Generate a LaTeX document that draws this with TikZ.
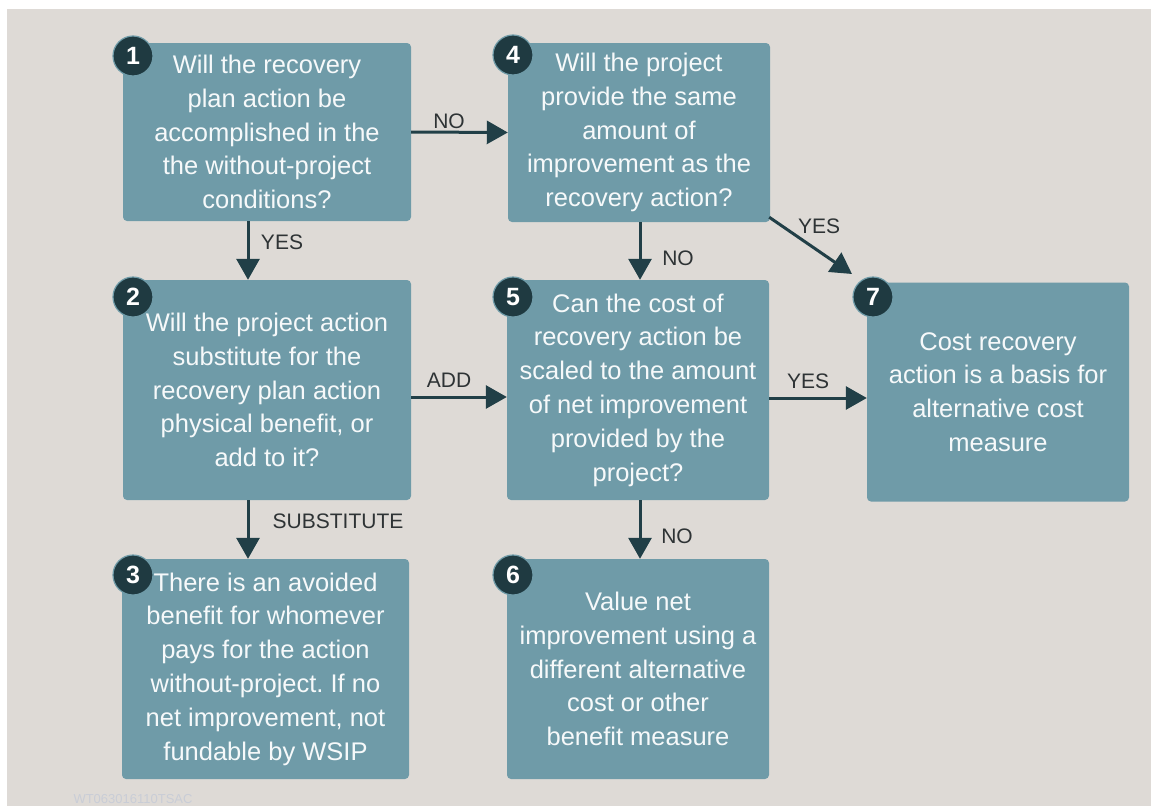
\documentclass[tikz,border=0pt]{standalone}
\usepackage{fontspec}
\setmainfont{Liberation Sans}
\usetikzlibrary{arrows.meta}
\definecolor{bgc}{HTML}{DEDAD6}
\definecolor{boxc}{HTML}{6F9BA8}
\definecolor{arrc}{HTML}{213F47}
\definecolor{numc}{HTML}{1F3A41}
\definecolor{labc}{HTML}{2E3335}
\definecolor{wmc}{HTML}{C9CDD7}
\begin{document}
\begin{tikzpicture}[x=1pt,y=-1pt,
  box/.style={fill=boxc, rounded corners=4pt, inner sep=0pt, text=white!94!boxc,
    font=\fontsize{25.5}{33.8}\selectfont\frenchspacing, align=center},
  num/.style={circle, fill=numc, draw=boxc, line width=1.2pt, minimum size=40pt,
    inner sep=0pt, text=white, font=\fontsize{25}{25}\selectfont\bfseries},
  arr/.style={draw=arrc, line width=3pt, -{Triangle[length=21pt,width=23pt]}},
  lab/.style={text=labc, font=\fontsize{21}{21}\selectfont, inner sep=0pt}]

\useasboundingbox (0,0) rectangle (1151,806);
\fill[white] (0,0) rectangle (1151,806);
\fill[bgc] (7,9) rectangle (1151,806);

% boxes
\node[box, minimum width=288pt, minimum height=178pt] (b1) at (267,132)
  {Will the recovery\\plan action be\\accomplished in the\\the without-project\\conditions?};
\node[box, minimum width=288pt, minimum height=220pt] (b2) at (267,390)
  {Will the project action\\substitute for the\\recovery plan action\\physical benefit, or\\add to it?};
\node[box, minimum width=287pt, minimum height=220pt] (b3) at (265.5,669)
  {There is an avoided\\benefit for whomever\\pays for the action\\without-project. If no\\net improvement, not\\fundable by WSIP};
\node[box, minimum width=262pt, minimum height=179pt] (b4) at (639,132.5)
  {Will the project\\provide the same\\amount of\\improvement as the\\recovery action?};
\node[box, minimum width=262pt, minimum height=220pt] (b5) at (638,390)
  {Can the cost of\\recovery action be\\scaled to the amount\\of net improvement\\provided by the\\project?};
\node[box, minimum width=262pt, minimum height=220pt] (b6) at (638,669)
  {Value net\\improvement using a\\different alternative\\cost or other\\benefit measure};
\node[box, minimum width=262pt, minimum height=219pt] (b7) at (998,392)
  {Cost recovery\\action is a basis for\\alternative cost\\measure};

% number circles
\node[num] (c1) at (133,56) {1};
\node[num] (c2) at (133,297) {2};
\node[num] (c3) at (133,575) {3};
\node[num] (c4) at (513,55) {4};
\node[num] (c5) at (513,297) {5};
\node[num] (c6) at (513,575) {6};
\node[num] (c7) at (873,297) {7};

% connectors
\draw[arr] (b1.east) -- (b4.west);
\draw[arr] ([xshift=-19pt]b1.south) -- ([xshift=-19pt]b2.north);
\draw[arr] ([yshift=-7pt]b2.east) -- ([yshift=-7pt]b5.west);
\draw[arr] ([xshift=-19pt]b2.south) -- ([xshift=-17.5pt]b3.north);
\draw[arr] ([xshift=1pt]b4.south) -- ([xshift=2pt]b5.north);
\draw[arr] ([xshift=2pt]b5.south) -- ([xshift=2pt]b6.north);
\draw[arr] ([yshift=-8pt]b5.east) -- ([yshift=-6pt]b7.west);
\coordinate (d7) at ([xshift=-21pt,yshift=23pt]c7.center);
\draw[arr] ([xshift=-1pt,yshift=5pt]b4.south east) -- (d7);

% labels
\node[lab] (l1) at (449,121) {NO};
\node[lab] (l2) at (282,242) {YES};
\node[lab] (l3) at (449,380) {ADD};
\node[lab] (l4) at (338,521) {SUBSTITUTE};
\node[lab] (l5) at (678,258) {NO};
\node[lab] (l6) at (677,536) {NO};
\node[lab] (l7) at (808,381) {YES};
\node[lab] (l8) at (819,226) {YES};

% watermark
\node[text=wmc, font=\fontsize{13}{13}\selectfont, anchor=base, inner sep=0pt] (wm) at (133,803) {WT063016110TSAC};
\end{tikzpicture}
\end{document}
